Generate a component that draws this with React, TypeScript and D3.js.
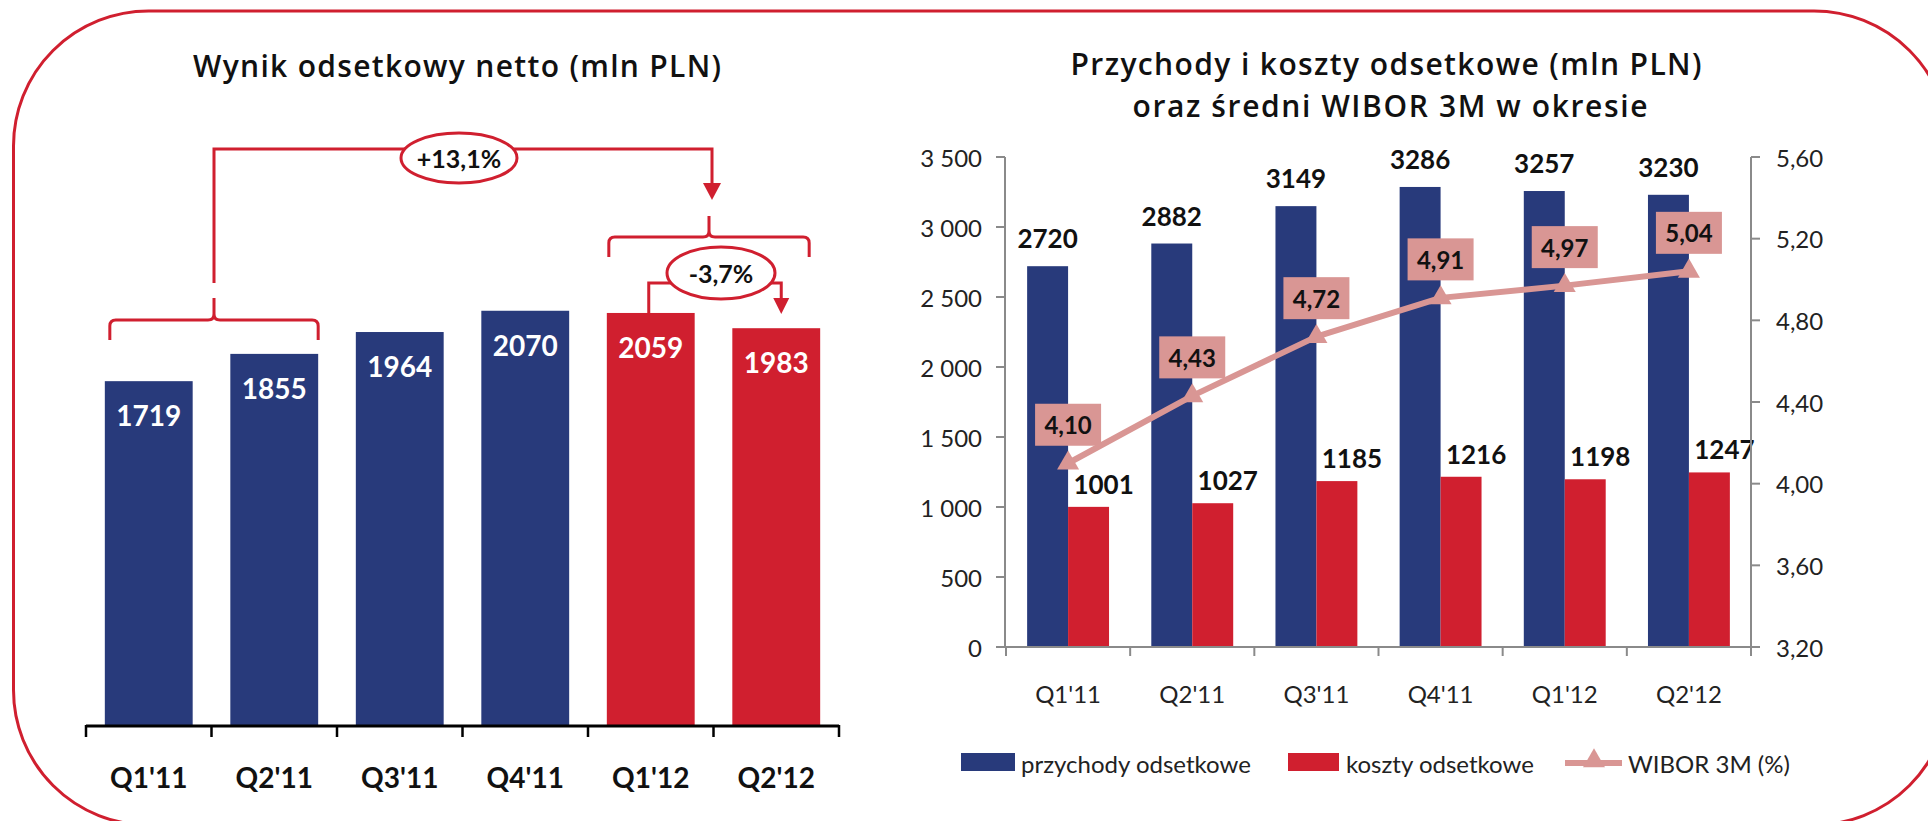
import React from "react";
import * as d3 from "d3";

// ---------- data ----------
const categories = ["Q1'11", "Q2'11", "Q3'11", "Q4'11", "Q1'12", "Q2'12"];
const netInterest = [1719, 1855, 1964, 2070, 2059, 1983];
const interestIncome = [2720, 2882, 3149, 3286, 3257, 3230];
const interestCost = [1001, 1027, 1185, 1216, 1198, 1247];
const wibor = [4.1, 4.43, 4.72, 4.91, 4.97, 5.04];
const leftAxisTicks = [0, 500, 1000, 1500, 2000, 2500, 3000, 3500];
const rightAxisTicks = [3.2, 3.6, 4.0, 4.4, 4.8, 5.2, 5.6];
const yoyChange = "+13,1%";
const qoqChange = "-3,7%";
const titleLeft = "Wynik odsetkowy netto (mln PLN)";
const titleRight = ["Przychody i koszty odsetkowe (mln PLN)", "oraz średni WIBOR 3M w okresie"];
const legendLabels = ["przychody odsetkowe", "koszty odsetkowe", "WIBOR 3M (%)"];

// ---------- style ----------
const BLUE = "#283a7b";
const RED = "#d01f2f";
const PINK = "#d99694";
const GRAY = "#8a8a8a";
const FONT = "Lato, 'Open Sans', sans-serif";
const TITLE_FONT = "'Open Sans', Lato, sans-serif";

const locale = d3.formatLocale({ decimal: ",", thousands: " ", grouping: [3], currency: ["", ""] });
const fmtThousands = locale.format(",d");
const fmtPct = locale.format(".2f");

function brace(x1: number, x2: number, yH: number, yEnd: number, yStem: number) {
  const xc = (x1 + x2) / 2;
  const r = 6;
  return [
    `M${x1},${yEnd} L${x1},${yH + r} Q${x1},${yH} ${x1 + r},${yH} L${xc - r},${yH} Q${xc},${yH} ${xc},${yH - r} L${xc},${yStem}`,
    `M${xc},${yH - r} Q${xc},${yH} ${xc + r},${yH} L${x2 - r},${yH} Q${x2},${yH} ${x2},${yH + r} L${x2},${yEnd}`,
  ].join(" ");
}

function arrowHead(x: number, tipY: number, w: number, h: number) {
  return `M${x - w / 2},${tipY - h} L${x + w / 2},${tipY - h} L${x},${tipY} Z`;
}

function LeftChart() {
  const x = d3.scaleBand<string>().domain(categories).range([86, 839]).paddingInner(0.3).paddingOuter(0.15);
  const y = d3.scaleLinear().domain([0, 2500]).range([726, 224.5]);
  const bw = x.bandwidth();
  const step = x.step();
  const boundaries = d3.range(categories.length + 1).map((i) => 86 + i * step);
  const cx = (c: string) => (x(c) as number) + bw / 2;

  // annotation geometry
  const b1x1 = (x(categories[0]) as number) + 5;
  const b1x2 = (x(categories[1]) as number) + bw;
  const b1c = (b1x1 + b1x2) / 2;
  const b2x1 = (x(categories[4]) as number) + 2;
  const b2x2 = (x(categories[5]) as number) + bw - 11;
  const b2c = (b2x1 + b2x2) / 2 + 3;
  const s1 = cx(categories[4]) - 2;
  const s2 = cx(categories[5]) + 5;

  return (
    <g>
      <text x={457} y={65} textAnchor="middle" dominantBaseline="central" fontFamily={TITLE_FONT} fontSize={30} fontWeight={600} fill="#111" textLength={528} lengthAdjust="spacing">
        {titleLeft}
      </text>
      {categories.map((c, i) => (
        <g key={c}>
          <rect x={x(c)} y={y(netInterest[i])} width={bw} height={y(0) - y(netInterest[i])} fill={c.endsWith("12") ? RED : BLUE} />
          <text x={cx(c)} y={y(netInterest[i]) + 34} textAnchor="middle" dominantBaseline="central" fontFamily={FONT} fontWeight={700} fontSize={28} fill="#fff">
            {netInterest[i]}
          </text>
          <text x={cx(c)} y={777} textAnchor="middle" dominantBaseline="central" fontFamily={FONT} fontWeight={700} fontSize={28} fill="#111">
            {c}
          </text>
        </g>
      ))}
      <line x1={86} x2={839} y1={726} y2={726} stroke="#000" strokeWidth={3} />
      {boundaries.map((bx, i) => (
        <line key={i} x1={bx} x2={bx} y1={725} y2={737} stroke="#000" strokeWidth={2.5} />
      ))}

      {/* annotations */}
      <g fill="none" stroke={RED} strokeWidth={3}>
        <path d={brace(b1x1, b1x2, 320, 340, 298)} />
        <path d={`M${b1c},283 L${b1c},149 L${b2c},149 L${b2c},186`} />
        <path d={brace(b2x1, b2x2, 237, 257, 216)} />
        <path d={`M${s1},${y(netInterest[4])} L${s1},283 L${s2},283 L${s2},300`} />
      </g>
      <path d={arrowHead(b2c, 200, 18, 17)} fill={RED} />
      <path d={arrowHead(s2, 314, 16, 16)} fill={RED} />
      <ellipse cx={459} cy={158} rx={58} ry={25} fill="#fff" stroke={RED} strokeWidth={3} />
      <text x={459} y={158} textAnchor="middle" dominantBaseline="central" fontFamily={FONT} fontWeight={700} fontSize={25} fill="#111">
        {yoyChange}
      </text>
      <ellipse cx={721} cy={273} rx={54} ry={26} fill="#fff" stroke={RED} strokeWidth={3} />
      <text x={721} y={273} textAnchor="middle" dominantBaseline="central" fontFamily={FONT} fontWeight={700} fontSize={25} fill="#111">
        {qoqChange}
      </text>
    </g>
  );
}

function RightChart() {
  const x = d3.scaleBand<string>().domain(categories).range([1006, 1751]);
  const sub = d3.scaleBand<string>().domain(["inc", "cost"]).range([0, x.bandwidth()]).paddingOuter(0.516);
  const yL = d3.scaleLinear().domain([0, 3500]).range([647, 157]);
  const yR = d3.scaleLinear().domain([3.2, 5.6]).range([647, 157]);
  const sw = sub.bandwidth();
  const step = x.step();
  const boundaries = d3.range(categories.length + 1).map((i) => 1006 + i * step);
  const pts: [number, number][] = categories.map((c, i) => [(x(c) as number) + x.bandwidth() / 2, yR(wibor[i])]);
  const line = d3.line();
  const tri = d3.symbol(d3.symbolTriangle, 210)() as string;

  return (
    <g>
      {titleRight.map((t, i) => (
        <text key={i} x={i === 0 ? 1386 : 1390} y={i === 0 ? 63 : 105} textAnchor="middle" dominantBaseline="central" fontFamily={TITLE_FONT} fontSize={30} fontWeight={600} fill="#111" textLength={i === 0 ? 631 : 515} lengthAdjust="spacing">
          {t}
        </text>
      ))}

      {categories.map((c, i) => {
        const bx = x(c) as number;
        const ix = bx + (sub("inc") as number);
        const kx = bx + (sub("cost") as number);
        return (
          <g key={c}>
            <rect x={ix} y={yL(interestIncome[i])} width={sw} height={yL(0) - yL(interestIncome[i])} fill={BLUE} />
            <rect x={kx} y={yL(interestCost[i])} width={sw} height={yL(0) - yL(interestCost[i])} fill={RED} />
            <text x={ix + sw / 2} y={yL(interestIncome[i]) - 28} textAnchor="middle" dominantBaseline="central" fontFamily={FONT} fontWeight={700} fontSize={26} fill="#111">
              {interestIncome[i]}
            </text>
            <text x={kx + sw / 2 + 15} y={yL(interestCost[i]) - 23} textAnchor="middle" dominantBaseline="central" fontFamily={FONT} fontWeight={700} fontSize={26} fill="#111">
              {interestCost[i]}
            </text>
            <text x={bx + x.bandwidth() / 2} y={693} textAnchor="middle" dominantBaseline="central" fontFamily={FONT} fontSize={24} fill="#222">
              {c}
            </text>
          </g>
        );
      })}

      {/* axes */}
      <g stroke={GRAY} strokeWidth={2}>
        <line x1={1005} x2={1005} y1={157} y2={647} />
        <line x1={1751} x2={1751} y1={157} y2={647} />
        <line x1={1005} x2={1751} y1={647} y2={647} />
        {leftAxisTicks.map((t) => (
          <line key={t} x1={996} x2={1005} y1={yL(t)} y2={yL(t)} />
        ))}
        {rightAxisTicks.map((t) => (
          <line key={t} x1={1751} x2={1760} y1={yR(t)} y2={yR(t)} />
        ))}
        {boundaries.map((b, i) => (
          <line key={i} x1={b} x2={b} y1={647} y2={656} />
        ))}
      </g>
      {leftAxisTicks.map((t) => (
        <text key={t} x={982} y={yL(t)} textAnchor="end" dominantBaseline="central" fontFamily={FONT} fontSize={24} fill="#222">
          {fmtThousands(t)}
        </text>
      ))}
      {rightAxisTicks.map((t) => (
        <text key={t} x={1776} y={yR(t)} textAnchor="start" dominantBaseline="central" fontFamily={FONT} fontSize={24} fill="#222">
          {fmtPct(t)}
        </text>
      ))}

      {/* WIBOR line */}
      <path d={line(pts) as string} fill="none" stroke={PINK} strokeWidth={6} strokeLinejoin="round" />
      {pts.map(([px, py], i) => (
        <path key={i} d={tri} transform={`translate(${px},${py})`} fill={PINK} />
      ))}
      {pts.map(([px, py], i) => (
        <g key={"l" + i}>
          <rect x={px - 33} y={py - 38.5 - 21} width={66} height={42} fill={PINK} />
          <text x={px} y={py - 38.5} textAnchor="middle" dominantBaseline="central" fontFamily={FONT} fontWeight={700} fontSize={24} fill="#111">
            {fmtPct(wibor[i])}
          </text>
        </g>
      ))}

      {/* legend */}
      <rect x={961} y={753} width={54} height={18} fill={BLUE} />
      <text x={1021} y={763} dominantBaseline="central" fontFamily={FONT} fontSize={24} fill="#222">{legendLabels[0]}</text>
      <rect x={1288} y={753} width={51} height={18} fill={RED} />
      <text x={1346} y={763} dominantBaseline="central" fontFamily={FONT} fontSize={24} fill="#222">{legendLabels[1]}</text>
      <line x1={1565} x2={1622} y1={763} y2={763} stroke={PINK} strokeWidth={6} />
      <path d={tri} transform="translate(1594,761)" fill={PINK} />
      <text x={1628} y={763} dominantBaseline="central" fontFamily={FONT} fontSize={24} fill="#222">{legendLabels[2]}</text>
    </g>
  );
}

export default function App() {
  return (
    <svg width={1928} height={821} style={{ position: "absolute", left: 0, top: 0, display: "block", background: "#fff" }}>
      <rect x={0} y={0} width={1928} height={821} fill="#fff" />
      <rect x={13.5} y={11} width={1935.5} height={814} rx={135} ry={135} fill="none" stroke={RED} strokeWidth={3} />
      <LeftChart />
      <RightChart />
    </svg>
  );
}
